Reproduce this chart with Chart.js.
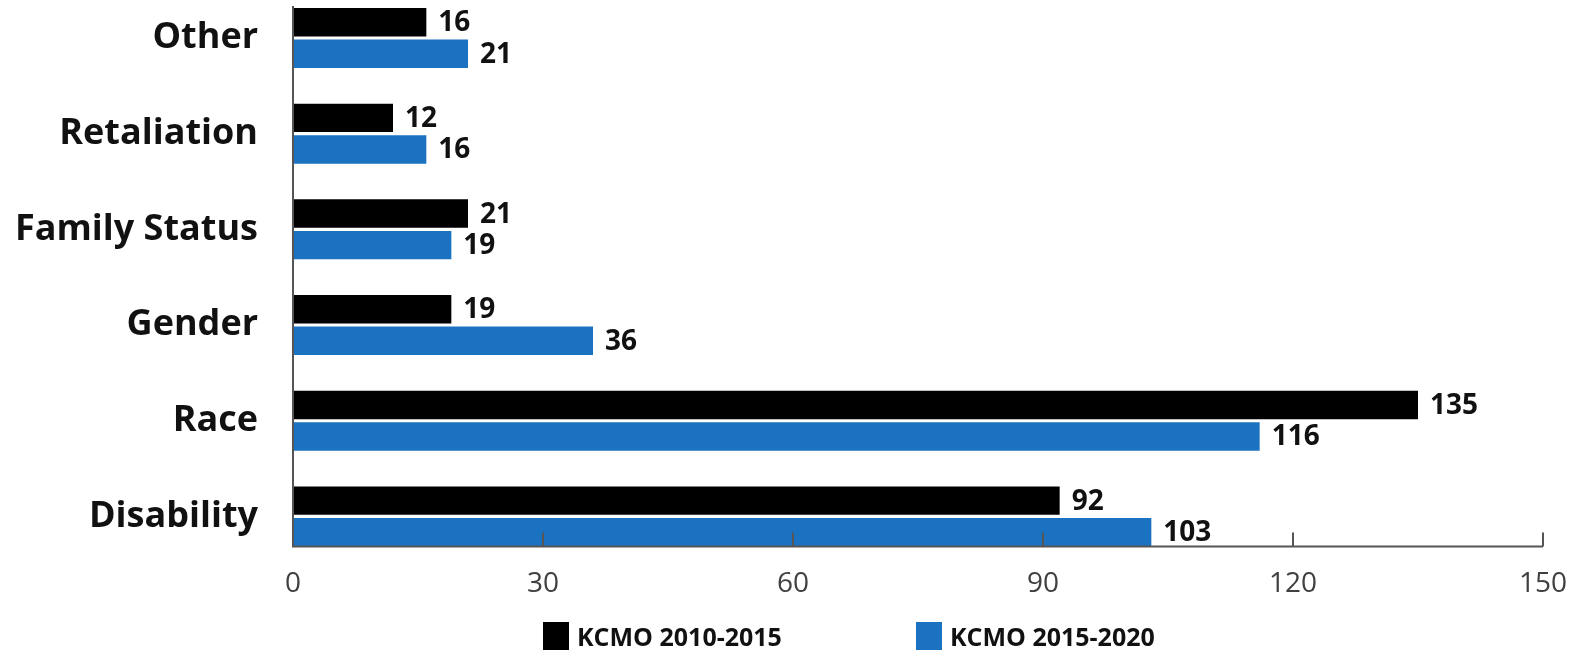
<!DOCTYPE html>
<html lang="en">
  <head>
    <meta charset="UTF-8" />
    <title>KCMO complaints by basis</title>
    <script src="https://cdn.jsdelivr.net/npm/chart.js@4.4.1/dist/chart.umd.min.js"></script>
    <style>
      body { margin: 0; background: #fff; }
      #wrap { position: relative; width: 1576px; height: 652px; }
      #legend { position: absolute; left: 543px; top: 619px; display: flex; align-items: center;
                font: 700 25px "Open Sans", sans-serif; color: #111; }
      #legend span.box { display: inline-block; width: 26px; height: 28px; margin-right: 8px; }
      #legend .item { display: flex; align-items: center; margin-right: 134px; }
    </style>
  </head>
  <body>
    <div id="wrap">
      <canvas id="myChart"></canvas>
      <div id="legend"></div>
    </div>

    <script>
    // values
    const categories = ['Other', 'Retaliation', 'Family Status', 'Gender', 'Race', 'Disability'];
    const seriesNames = ['KCMO 2010-2015', 'KCMO 2015-2020'];
    const kcmo2010 = [16, 12, 21, 19, 135, 92];
    const kcmo2015 = [21, 16, 19, 36, 116, 103];
    const xTicks = [0, 30, 60, 90, 120, 150];

    const colors = ['#000000', '#1b72c0'];

    // axis lines sit on the outer edges of the bars, ticks point up
    const axisLines = {
      id: 'axisLines',
      afterDatasetsDraw(chart) {
        const ctx = chart.ctx;
        const x = chart.scales.x;
        const first = chart.getDatasetMeta(0).data[0];
        const last = chart.getDatasetMeta(1).data[categories.length - 1];
        const top = first.y - first.height / 2 - 2;
        const bottom = last.y + last.height / 2;
        const x0 = x.getPixelForValue(xTicks[0]);
        const x1 = x.getPixelForValue(xTicks[xTicks.length - 1]);
        ctx.save();
        ctx.strokeStyle = '#555555';
        ctx.lineWidth = 2;
        ctx.beginPath();
        ctx.moveTo(x0, top);
        ctx.lineTo(x0, bottom);
        ctx.lineTo(x1, bottom);
        xTicks.slice(1).forEach(v => {
          const px = x.getPixelForValue(v);
          ctx.moveTo(px, bottom);
          ctx.lineTo(px, bottom - 14);
        });
        ctx.stroke();
        ctx.restore();
      }
    };

    const valueLabels = {
      id: 'valueLabels',
      afterDatasetsDraw(chart) {
        const ctx = chart.ctx;
        ctx.save();
        ctx.font = '700 28px "Open Sans", sans-serif';
        ctx.fillStyle = '#111111';
        ctx.textBaseline = 'middle';
        chart.data.datasets.forEach((ds, i) => {
          chart.getDatasetMeta(i).data.forEach((bar, j) => {
            ctx.fillText(ds.data[j], bar.x + 12, bar.y + 1);
          });
        });
        ctx.restore();
      }
    };

    const ctx = document.getElementById('myChart').getContext('2d');
    const myChart = new Chart(ctx, {
      type: 'bar',
      data: {
        labels: categories,
        datasets: [
          { label: seriesNames[0], data: kcmo2010, backgroundColor: colors[0], clip: false },
          { label: seriesNames[1], data: kcmo2015, backgroundColor: colors[1], clip: false }
        ]
      },
      options: {
        indexAxis: 'y',
        responsive: true,
        maintainAspectRatio: false,
        animation: false,
        categoryPercentage: 0.66,
        barPercentage: 0.9,
        layout: { padding: { top: 38, right: 33, bottom: 0, left: 0 } },
        scales: {
          x: {
            min: 0,
            max: 150,
            afterBuildTicks: s => { s.ticks = xTicks.map(v => ({ value: v })); },
            afterFit: s => { s.paddingLeft = 0; s.paddingRight = 0; },
            grid: { display: false, drawTicks: false },
            border: { display: false },
            ticks: {
              padding: 51,
              color: '#404040',
              font: { family: 'Open Sans', size: 28, weight: '400' }
            }
          },
          y: {
            offset: false,
            afterFit: s => { s.width = 293; s.paddingTop = 0; s.paddingBottom = 0; },
            grid: { display: false, drawTicks: false },
            border: { display: false },
            ticks: {
              padding: 35,
              color: '#111111',
              font: { family: 'Open Sans', size: 36, weight: '700' }
            }
          }
        },
        plugins: {
          legend: { display: false },
          tooltip: { enabled: false }
        }
      },
      plugins: [axisLines, valueLabels]
    });

    // legend below the chart, built from the datasets
    const legendEl = document.getElementById('legend');
    myChart.data.datasets.forEach(ds => {
      const item = document.createElement('div');
      item.className = 'item';
      const box = document.createElement('span');
      box.className = 'box';
      box.style.background = ds.backgroundColor;
      item.appendChild(box);
      item.appendChild(document.createTextNode(ds.label));
      legendEl.appendChild(item);
    });
    </script>
  </body>
</html>
